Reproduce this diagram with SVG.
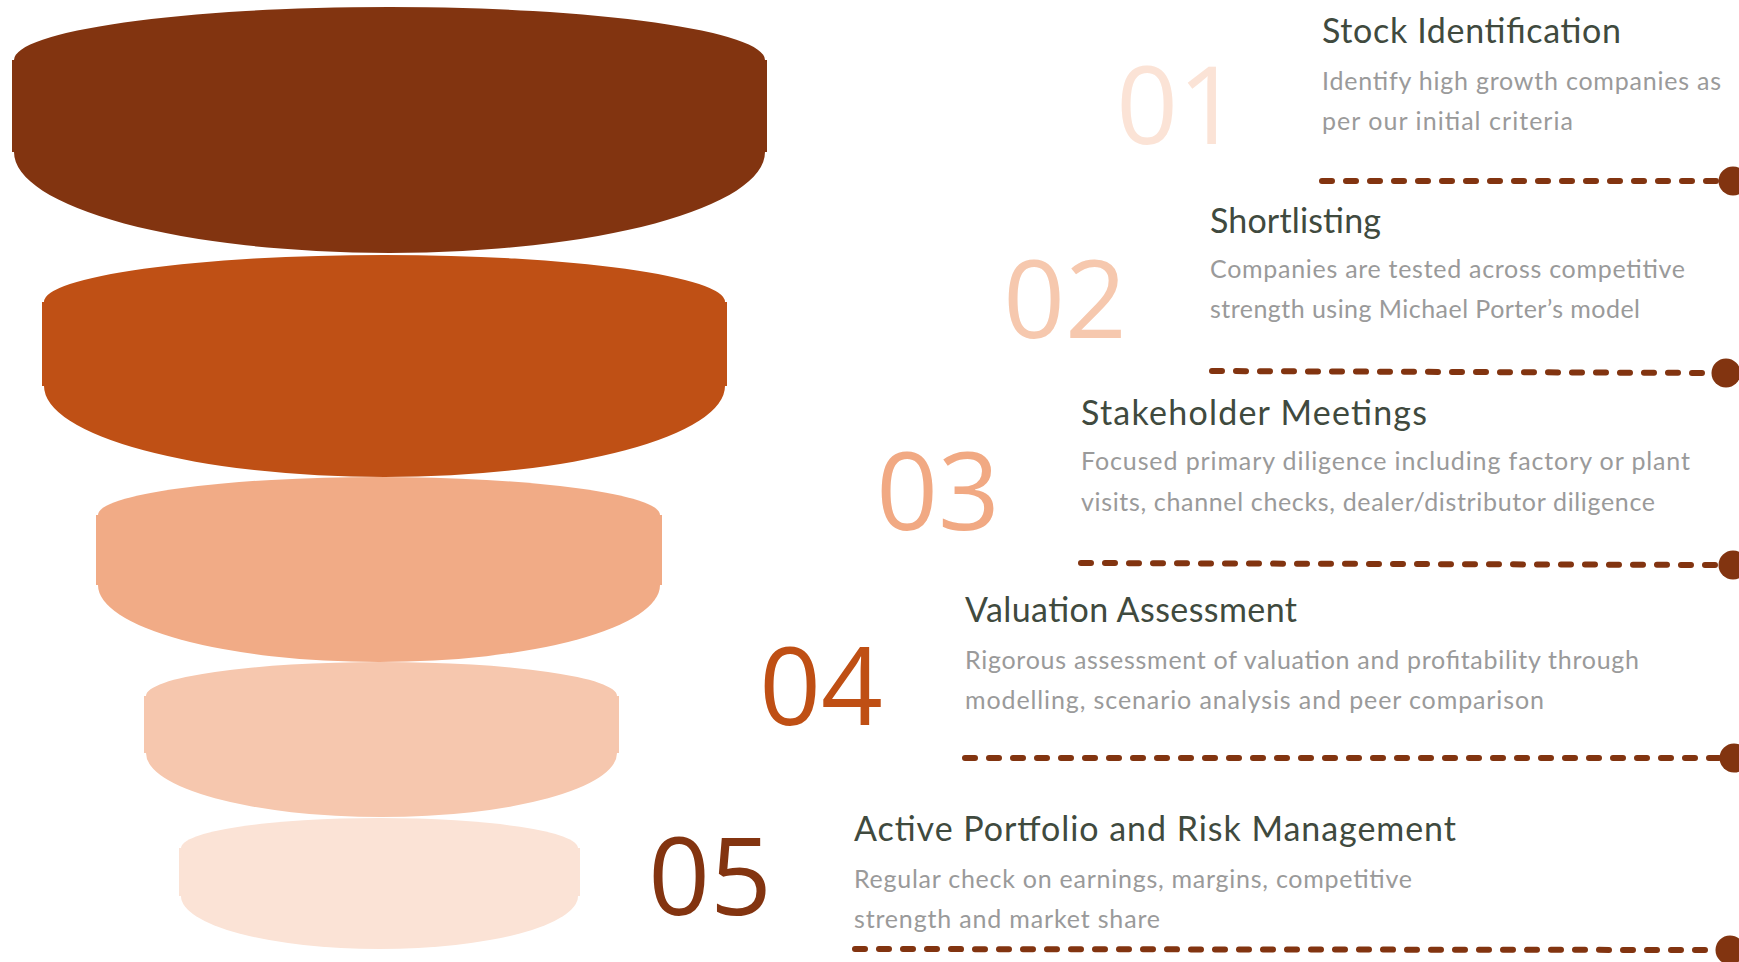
<svg xmlns="http://www.w3.org/2000/svg" width="1739" height="962" viewBox="0 0 1739 962">
<style>
.num{font-family:"Open Sans","Noto Sans",sans-serif;font-size:108px;text-anchor:middle}
.hd{font-family:Lato,"Noto Sans",sans-serif;font-size:34px;fill:#404A3E}
.ds{font-family:Lato,"Noto Sans",sans-serif;font-size:25px;fill:#9A9A9A}
.dash{fill:none;stroke:#823410;stroke-width:6;stroke-linecap:round;stroke-dasharray:10 14}
.dot{fill:#823410}
</style>
<rect width="1739" height="962" fill="#FFFFFF"/>
<g id="funnel">
<g id="tier1" fill="#823410">
<path d="M14,60 A375.5,53 0 0 1 765,60 L765,152 A375.5,101 0 0 1 14,152 Z"/>
<rect x="12" y="60" width="755" height="92"/>
</g>
<g id="tier2" fill="#BF5015">
<path d="M44,302 A340.5,47 0 0 1 725,302 L725,386 A340.5,91 0 0 1 44,386 Z"/>
<rect x="42" y="302" width="685" height="84"/>
</g>
<g id="tier3" fill="#F1AB86">
<path d="M98,515 A281,38 0 0 1 660,515 L660,585 A281,77 0 0 1 98,585 Z"/>
<rect x="96" y="515" width="566" height="70"/>
</g>
<g id="tier4" fill="#F6C7AE">
<path d="M146,696 A235.5,34 0 0 1 617,696 L617,753 A235.5,64 0 0 1 146,753 Z"/>
<rect x="144" y="696" width="475" height="57"/>
</g>
<g id="tier5" fill="#FBE3D6">
<path d="M181,848 A198.5,30 0 0 1 578,848 L578,896 A198.5,53 0 0 1 181,896 Z"/>
<rect x="179" y="848" width="401" height="48"/>
</g>
</g>
<g id="connectors">
<line class="dash" x1="1322" y1="181" x2="1720" y2="181"/>
<circle class="dot" cx="1733" cy="181" r="14.5"/>
<line class="dash" x1="1212" y1="371" x2="1713" y2="373"/>
<circle class="dot" cx="1726" cy="373" r="14.5"/>
<line class="dash" x1="1081" y1="563" x2="1720" y2="565"/>
<circle class="dot" cx="1733" cy="565" r="14.5"/>
<line class="dash" x1="965" y1="758" x2="1720" y2="758"/>
<circle class="dot" cx="1734" cy="758" r="14.5"/>
<line class="dash" x1="855" y1="949" x2="1716" y2="950"/>
<circle class="dot" cx="1730" cy="950" r="14.5"/>
</g>
<g id="step1">
<text class="num" x="1178" y="144" fill="#FBE3D6">01</text>
<text class="hd" x="1322" y="43" textLength="299">Stock Identification</text>
<text class="ds" x="1322" y="90" textLength="399">Identify high growth companies as</text>
<text class="ds" x="1322" y="130" textLength="251">per our initial criteria</text>
</g>
<g id="step2">
<text class="num" x="1065" y="338" fill="#F6C8AE">02</text>
<text class="hd" x="1210" y="233" textLength="171">Shortlisting</text>
<text class="ds" x="1210" y="278" textLength="475">Companies are tested across competitive</text>
<text class="ds" x="1210" y="318" textLength="430">strength using Michael Porter’s model</text>
</g>
<g id="step3">
<text class="num" x="938" y="530" fill="#F1A983">03</text>
<text class="hd" x="1081" y="425" textLength="346">Stakeholder Meetings</text>
<text class="ds" x="1081" y="470" textLength="609">Focused primary diligence including factory or plant</text>
<text class="ds" x="1081" y="511" textLength="574">visits, channel checks, dealer/distributor diligence</text>
</g>
<g id="step4">
<text class="num" x="821" y="725" fill="#BF4F14">04</text>
<text class="hd" x="965" y="622" textLength="332">Valuation Assessment</text>
<text class="ds" x="965" y="669" textLength="674">Rigorous assessment of valuation and profitability through</text>
<text class="ds" x="965" y="709" textLength="579">modelling, scenario analysis and peer comparison</text>
</g>
<g id="step5">
<text class="num" x="710" y="915" fill="#833410">05</text>
<text class="hd" x="854" y="841" textLength="602">Active Portfolio and Risk Management</text>
<text class="ds" x="854" y="888" textLength="558">Regular check on earnings, margins, competitive</text>
<text class="ds" x="854" y="928" textLength="306">strength and market share</text>
</g>
</svg>
